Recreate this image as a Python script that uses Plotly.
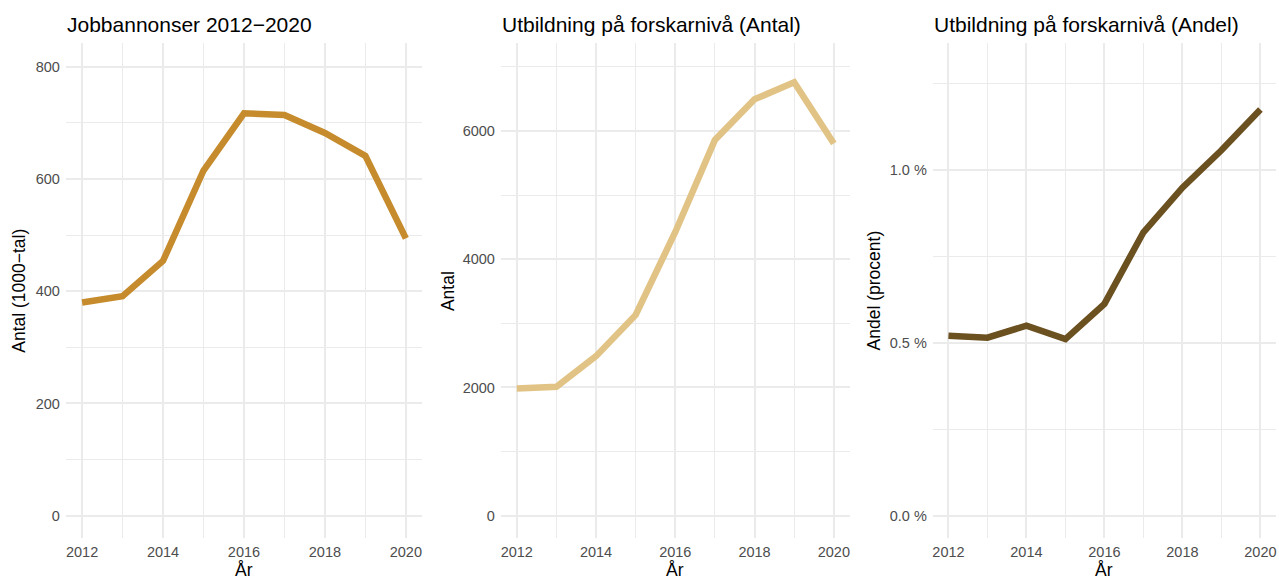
import plotly.graph_objects as go

years = [2012, 2013, 2014, 2015, 2016, 2017, 2018, 2019, 2020]
jobbannonser = [380, 391, 454, 615, 717, 714, 682, 641, 494]
forskare_antal = [1983, 2011, 2489, 3132, 4425, 5862, 6494, 6759, 5805]
forskare_andel = [0.521, 0.515, 0.550, 0.511, 0.613, 0.820, 0.949, 1.057, 1.175]

titles = ["Jobbannonser 2012\u22122020", "Utbildning på forskarnivå (Antal)", "Utbildning på forskarnivå (Andel)"]
ytitles = ["Antal (1000\u2212tal)", "Antal", "Andel (procent)"]
colors = ["#C68B2C", "#E1C385", "#6B5020"]

W, H = 1279, 579
panels_px = [(65, 421.7), (500.7, 850), (933.3, 1277)]
top_px, bot_px = 43.3, 538.3
ytitle_x = [18, 447, 874]

yranges = [[-40.3, 841.7], [-352, 7368], [-0.0651, 1.3665]]
ymajor = [dict(tick0=0, dtick=200), dict(tick0=0, dtick=2000), dict(tick0=0, dtick=0.5)]
yminor = [100, 1000, 0.25]

series = [jobbannonser, forskare_antal, forskare_andel]

fig = go.Figure()
grid = "#EBEBEB"
font_family = "Liberation Sans, Arial, sans-serif"

for i in range(3):
    xa = "x" if i == 0 else f"x{i+1}"
    ya = "y" if i == 0 else f"y{i+1}"
    fig.add_trace(go.Scatter(x=years, y=series[i], mode="lines",
                             line=dict(color=colors[i], width=6.5),
                             xaxis=xa, yaxis=ya, showlegend=False, hoverinfo="skip"))
    x0, x1 = panels_px[i]
    dom_x = [x0 / W, x1 / W]
    dom_y = [1 - bot_px / H, 1 - top_px / H]
    xkey = "xaxis" if i == 0 else f"xaxis{i+1}"
    ykey = "yaxis" if i == 0 else f"yaxis{i+1}"
    yfmt = dict(tickformat=".1f", ticksuffix=" %") if i == 2 else {}
    fig.update_layout(**{
        xkey: dict(domain=dom_x, range=[2011.6, 2020.4], anchor=ya,
                   tickmode="linear", tick0=2012, dtick=2,
                   showgrid=True, gridcolor=grid, gridwidth=1.8,
                   minor=dict(tickmode="linear", tick0=2013, dtick=2, showgrid=True, gridcolor=grid, gridwidth=1.2),
                   zeroline=False, showline=False, ticks="", ticklabelstandoff=3,
                   tickfont=dict(size=14.5, color="#4D4D4D", family=font_family)),
        ykey: dict(domain=dom_y, range=yranges[i], anchor=xa,
                   tickmode="linear", **ymajor[i],
                   showgrid=True, gridcolor=grid, gridwidth=1.8,
                   minor=dict(tickmode="linear", tick0=0, dtick=yminor[i], showgrid=True, gridcolor=grid, gridwidth=1.2),
                   zeroline=False, showline=False, ticks="", ticklabelstandoff=5,
                   tickfont=dict(size=14.5, color="#4D4D4D", family=font_family), **yfmt),
    })
    fig.add_annotation(text=titles[i], x=(x0 - 1) / W, y=1 - 24 / H, xref="paper", yref="paper",
                       xanchor="left", yanchor="middle", showarrow=False,
                       font=dict(size=21, color="#000000", family=font_family))
    fig.add_annotation(text=ytitles[i], x=ytitle_x[i] / W, y=1 - ((top_px + bot_px) / 2) / H,
                       xref="paper", yref="paper", xanchor="center", yanchor="middle",
                       textangle=-90, showarrow=False,
                       font=dict(size=17.5, color="#000000", family=font_family))
    fig.add_annotation(text="År", x=(x0 + x1) / 2 / W, y=1 - 570 / H,
                       xref="paper", yref="paper", xanchor="center", yanchor="middle",
                       showarrow=False,
                       font=dict(size=17.5, color="#000000", family=font_family))

fig.update_layout(width=W, height=H, margin=dict(l=0, r=0, t=0, b=0),
                  paper_bgcolor="white", plot_bgcolor="white",
                  font=dict(family=font_family))
fig.write_html("out.html", config={"displayModeBar": False},
               post_script="document.body.style.margin='0px';")
